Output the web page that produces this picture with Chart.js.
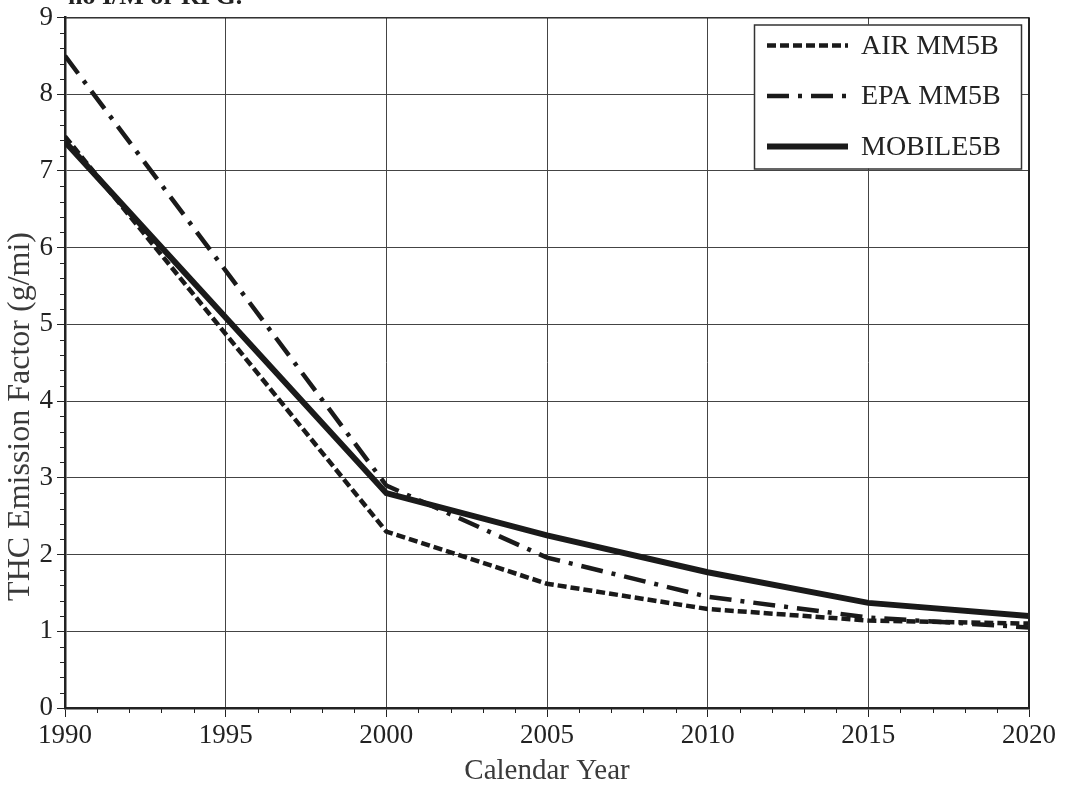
<!DOCTYPE html>
<html>
<head>
<meta charset="utf-8">
<script src="https://cdn.jsdelivr.net/npm/chart.js@4/dist/chart.umd.min.js"></script>
<style>
  html, body { margin: 0; padding: 0; background: #fff; }
  #wrap { position: relative; width: 1065px; height: 791px; overflow: hidden; }
  #title { position: absolute; left: 68px; top: -19px; font: bold 26px "Liberation Serif", serif; line-height: 30px; color: #222; white-space: nowrap; }
</style>
</head>
<body>
<div id="wrap">
  <div id="title">no I/M or RFG.</div>
  <canvas id="chart" width="1065" height="791"></canvas>
</div>
<script>
// Calendar years and THC emission factors (g/mi)
const years = [1990, 2000, 2005, 2010, 2015, 2020];
const airMM5B = [7.45, 2.3, 1.62, 1.29, 1.14, 1.1];
const epaMM5B = [8.5, 2.9, 1.96, 1.45, 1.18, 1.05];
const mobile5B = [7.38, 2.8, 2.25, 1.77, 1.37, 1.2];

const seriesLabels = ['AIR MM5B', 'EPA MM5B', 'MOBILE5B'];
const xTitle = 'Calendar Year';
const yTitle = 'THC Emission Factor (g/mi)';

const FONT = '"Liberation Serif", "DejaVu Serif", serif';
const INK = '#222';

const toPoints = vals => vals.map((v, i) => ({ x: years[i], y: v }));

// minor ticks, top/right frame and the y axis title
const frame = {
  id: 'frame',
  afterDraw(chart) {
    const { ctx, chartArea: a, scales: { x, y } } = chart;
    ctx.save();
    ctx.strokeStyle = INK;
    ctx.lineWidth = 1;
    ctx.beginPath();
    for (let yr = 1990; yr <= 2020; yr++) {
      if (yr % 5 === 0) continue;
      const px = Math.round(x.getPixelForValue(yr)) + 0.5;
      ctx.moveTo(px, a.bottom);
      ctx.lineTo(px, a.bottom + 5);
    }
    for (let i = 0; i <= 45; i++) {
      if (i % 5 === 0) continue;
      const py = Math.round(y.getPixelForValue(i * 0.2)) + 0.5;
      ctx.moveTo(a.left - 5, py);
      ctx.lineTo(a.left, py);
    }
    ctx.stroke();
    ctx.beginPath();
    ctx.moveTo(a.left, a.top + 0.5);
    ctx.lineTo(a.right, a.top + 0.5);
    ctx.stroke();
    ctx.lineWidth = 2;
    ctx.beginPath();
    ctx.moveTo(a.right, a.top);
    ctx.lineTo(a.right, a.bottom);
    ctx.stroke();

    // y title sits a little below the middle of the axis in the original
    ctx.translate(21, y.getPixelForValue(3.8));
    ctx.rotate(-Math.PI / 2);
    ctx.fillStyle = '#3a3a3a';
    ctx.font = '32px ' + FONT;
    ctx.textAlign = 'center';
    ctx.textBaseline = 'middle';
    ctx.fillText(yTitle, 0, 0);
    ctx.restore();
  }
};

// boxed legend in the upper right corner
const boxLegend = {
  id: 'boxLegend',
  afterDraw(chart) {
    const { ctx, chartArea: a } = chart;
    const w = 267, h = 144;
    const left = a.right - 8 - w, top = a.top + 7;
    ctx.save();
    ctx.fillStyle = '#fff';
    ctx.fillRect(left, top, w, h);
    ctx.strokeStyle = '#333';
    ctx.lineWidth = 1.5;
    ctx.strokeRect(left + 0.5, top + 0.5, w, h);
    chart.data.datasets.forEach((ds, i) => {
      const cy = top + 21 + i * 50.5;
      ctx.strokeStyle = ds.borderColor;
      ctx.lineWidth = ds.borderWidth;
      ctx.setLineDash(ds.borderDash || []);
      ctx.beginPath();
      ctx.moveTo(left + 13, cy);
      ctx.lineTo(left + 94, cy);
      ctx.stroke();
      ctx.setLineDash([]);
      ctx.fillStyle = INK;
      ctx.font = '28px ' + FONT;
      ctx.textBaseline = 'middle';
      ctx.fillText(ds.label, left + 107, cy + 1);
    });
    ctx.restore();
  }
};

new Chart(document.getElementById('chart'), {
  type: 'line',
  data: {
    datasets: [
      {
        label: seriesLabels[0],
        data: toPoints(airMM5B),
        borderColor: '#1a1a1a',
        borderWidth: 4.5,
        borderDash: [9, 4],
        pointRadius: 0,
        tension: 0,
        fill: false,
      },
      {
        label: seriesLabels[1],
        data: toPoints(epaMM5B),
        borderColor: '#1a1a1a',
        borderWidth: 4.5,
        borderDash: [22, 9, 4, 9],
        pointRadius: 0,
        tension: 0,
        fill: false,
      },
      {
        label: seriesLabels[2],
        data: toPoints(mobile5B),
        borderColor: '#1a1a1a',
        borderWidth: 6,
        pointRadius: 0,
        tension: 0,
        fill: false,
      },
    ],
  },
  options: {
    responsive: false,
    animation: false,
    layout: { padding: { top: 16, right: 36, left: 0, bottom: 0 } },
    plugins: {
      legend: { display: false },
      tooltip: { enabled: false },
    },
    scales: {
      x: {
        type: 'linear',
        min: 1990,
        max: 2020,
        afterFit(scale) { scale.height = 83; },
        ticks: {
          stepSize: 5,
          color: INK,
          padding: 3,
          font: { family: FONT, size: 27 },
          callback: v => String(v),
          maxRotation: 0,
        },
        grid: { color: '#444', lineWidth: 1, tickLength: 9, tickColor: INK },
        border: { color: INK, width: 2.5 },
        title: {
          display: true,
          text: xTitle,
          color: '#3a3a3a',
          font: { family: FONT, size: 29 },
          padding: { top: 0, bottom: 2 },
        },
      },
      y: {
        min: 0,
        max: 9,
        afterFit(scale) { scale.width = 65; },
        ticks: {
          stepSize: 1,
          color: INK,
          padding: 4,
          font: { family: FONT, size: 27, lineHeight: 1 },
        },
        grid: { color: '#444', lineWidth: 1, tickLength: 8, tickColor: INK },
        border: { color: INK, width: 2.5 },
      },
    },
  },
  plugins: [frame, boxLegend],
});
</script>
</body>
</html>
